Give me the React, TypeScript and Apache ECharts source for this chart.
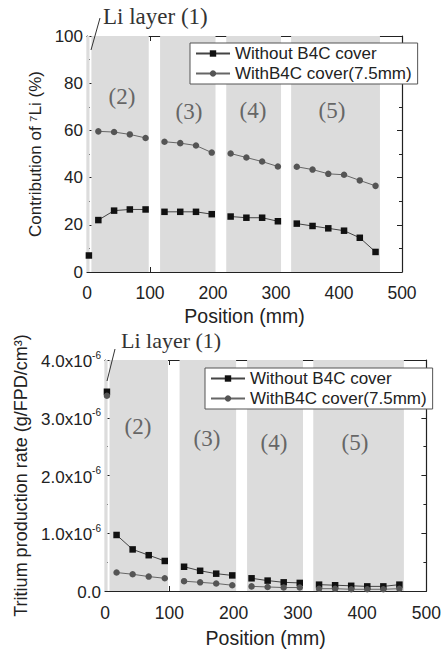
import React, { useEffect, useRef } from "react";
import * as echarts from "echarts";

// Positions (mm) of the calculation points; first one is the Li layer (1)
const positions = [3, 18, 43, 68, 93, 123, 148, 173, 198, 228, 253, 278, 303, 333, 358, 383, 408, 433, 458];
// index ranges of each region: (1), (2), (3), (4), (5)
const segments: [number, number][] = [[0, 1], [1, 5], [5, 9], [9, 13], [13, 19]];
// grey region spans (mm)
const regionSpans: [number, number][] = [[0, 4], [7, 98], [116, 204], [221, 308], [324, 465]];
const regionNames = ["(2)", "(3)", "(4)", "(5)"];

const seriesNames = ["Without B4C cover", "WithB4C cover(7.5mm)"];

// Contribution of 7Li (%)
const contribWithout = [7, 22, 26, 26.5, 26.5, 25.5, 25.5, 25.5, 24.5, 23.5, 23, 23, 21.5, 20.5, 19.5, 18.5, 17.5, 14.5, 8.5];
const contribWith = [null, 59.6, 59.3, 58.3, 56.8, 55.2, 54.6, 53.6, 50.6, 50.2, 48.5, 46.8, 44.7, 44.6, 43.4, 41.6, 41.2, 38.8, 36.5];

// Tritium production rate (x10^-6 g/FPD/cm3)
const tritiumWithout = [3.45, 0.97, 0.72, 0.62, 0.52, 0.42, 0.35, 0.3, 0.27, 0.22, 0.18, 0.15, 0.14, 0.11, 0.1, 0.09, 0.08, 0.08, 0.11];
const tritiumWith = [3.38, 0.32, 0.29, 0.25, 0.22, 0.17, 0.15, 0.13, 0.1, 0.08, 0.07, 0.06, 0.06, 0.04, 0.04, 0.03, 0.03, 0.03, 0.04];

const xTicks = [0, 100, 200, 300, 400, 500];
const contribTicks = [0, 20, 40, 60, 80, 100];
const tritiumTicks = [0, 1, 2, 3, 4];

const SANS = "Liberation Sans";
const SERIF = "Liberation Serif";

function buildSeries(
  name: string,
  values: (number | null)[],
  axisIndex: number,
  symbol: string,
  markerColor: string,
  lineColor: string
) {
  return segments.map(([a, b]) => ({
    name,
    type: "line",
    xAxisIndex: axisIndex * 2,
    yAxisIndex: axisIndex * 2,
    symbol,
    symbolSize: 6.5,
    showSymbol: true,
    z: 5,
    itemStyle: { color: markerColor, borderWidth: 0 },
    lineStyle: { color: lineColor, width: 1 },
    data: positions
      .slice(a, b)
      .map((x, i) => [x, values[a + i]])
      .filter((p) => p[1] !== null),
  }));
}

function regionSeries(axisIndex: number) {
  return {
    name: "regions",
    type: "line",
    xAxisIndex: axisIndex * 2,
    yAxisIndex: axisIndex * 2,
    data: [],
    z: 1,
    markArea: {
      silent: true,
      itemStyle: { color: "#dcdcdc" },
      data: regionSpans.map(([a, b]) => [{ xAxis: a }, { xAxis: b }]),
    },
  };
}

const axisColor = "#222";
const textColor = "#222";

function xAxes(gridIndex: number, margin: number, nameGap: number) {
  const base = {
    gridIndex,
    type: "value",
    min: xTicks[0],
    max: xTicks[xTicks.length - 1],
    interval: 100,
    splitLine: { show: false },
    axisLine: { onZero: false, lineStyle: { color: axisColor, width: 1.2 } },
    axisTick: { inside: true, length: 5, lineStyle: { color: axisColor } },
    minorTick: { show: true, splitNumber: 2, length: 3, lineStyle: { color: axisColor } },
  };
  return [
    {
      ...base,
      position: "bottom",
      axisLabel: { fontFamily: SANS, fontSize: 17.5, color: textColor, margin },
      name: "Position (mm)",
      nameLocation: "middle",
      nameGap,
      nameTextStyle: { fontFamily: SANS, fontSize: 19.5, color: textColor },
    },
    { ...base, position: "top", axisLabel: { show: false } },
  ];
}

function rightAxis(gridIndex: number, max: number, interval: number) {
  return {
    gridIndex,
    type: "value",
    min: 0,
    max,
    interval,
    position: "right",
    splitLine: { show: false },
    axisLine: { onZero: false, lineStyle: { color: axisColor, width: 1.2 } },
    axisTick: { inside: true, length: 5, lineStyle: { color: axisColor } },
    minorTick: { show: true, splitNumber: 2, length: 3, lineStyle: { color: axisColor } },
    axisLabel: { show: false },
  };
}

function legendFor(left: number, top: number) {
  return {
    data: seriesNames,
    orient: "vertical",
    left,
    top,
    backgroundColor: "#fff",
    borderColor: "#555",
    borderWidth: 1,
    borderRadius: 0,
    padding: [2, 6, 2, 5],
    itemGap: 3,
    itemWidth: 34,
    itemHeight: 8,
    textStyle: { fontFamily: SANS, fontSize: 17, color: textColor },
    selectedMode: false,
    z: 10,
  };
}

const option: any = {
  animation: false,
  backgroundColor: "#fff",
  grid: [
    { left: 87, top: 36, width: 315, height: 236 },
    { left: 105, top: 360, width: 322, height: 240 },
  ],
  xAxis: [...xAxes(0, 12, 34), ...xAxes(1, 13, 37)],
  yAxis: [
    {
      gridIndex: 0,
      type: "value",
      min: contribTicks[0],
      max: contribTicks[contribTicks.length - 1],
      interval: 20,
      position: "left",
      splitLine: { show: false },
      axisLine: { onZero: false, lineStyle: { color: axisColor, width: 1.2 } },
      axisTick: { inside: true, length: 5, lineStyle: { color: axisColor } },
      minorTick: { show: true, splitNumber: 2, length: 3, lineStyle: { color: axisColor } },
      axisLabel: { fontFamily: SANS, fontSize: 17, color: textColor, margin: 4 },
      name: "Contribution of \u2077Li (%)",
      nameLocation: "middle",
      nameGap: 35,
      nameTextStyle: { fontFamily: SANS, fontSize: 17, color: textColor },
    },
    rightAxis(0, 100, 20),
    {
      gridIndex: 1,
      type: "value",
      min: tritiumTicks[0],
      max: tritiumTicks[tritiumTicks.length - 1],
      interval: 1,
      position: "left",
      splitLine: { show: false },
      axisLine: { onZero: false, lineStyle: { color: axisColor, width: 1.2 } },
      axisTick: { inside: true, length: 5, lineStyle: { color: axisColor } },
      minorTick: { show: true, splitNumber: 2, length: 3, lineStyle: { color: axisColor } },
      axisLabel: {
        margin: 4,
        formatter: (v: number) => (v === 0 ? "{a|0.0}" : `{a|${v.toFixed(1)}x10}{b|-6}`),
        rich: {
          a: { fontFamily: SANS, fontSize: 17, color: textColor, lineHeight: 20, verticalAlign: "bottom" },
          b: { fontFamily: SANS, fontSize: 10, color: textColor, verticalAlign: "top", lineHeight: 20 },
        },
      },
      name: "Tritium production rate (g/FPD/cm\u00b3)",
      nameLocation: "middle",
      nameGap: 68,
      nameTextStyle: { fontFamily: SANS, fontSize: 18, color: textColor },
    },
    rightAxis(1, 4, 1),
  ],
  legend: [legendFor(190, 43), legendFor(205, 368)],
  series: [
    regionSeries(0),
    regionSeries(1),
    ...buildSeries(seriesNames[0], contribWithout, 0, "rect", "#111", "#444"),
    ...buildSeries(seriesNames[1], contribWith, 0, "circle", "#555", "#666"),
    ...buildSeries(seriesNames[0], tritiumWithout, 1, "rect", "#111", "#444"),
    ...buildSeries(seriesNames[1], tritiumWith, 1, "circle", "#555", "#666"),
  ],
  graphic: [
    { type: "text", left: 103, top: 5, z: 20, style: { text: "Li layer (1)", fontFamily: SERIF, fontSize: 23, fill: "#333" } },
    { type: "line", z: 20, shape: { x1: 91, y1: 50, x2: 100, y2: 18 }, style: { stroke: "#333", lineWidth: 1 } },
    { type: "text", left: 121, top: 329, z: 20, style: { text: "Li layer (1)", fontFamily: SERIF, fontSize: 22, fill: "#333" } },
    { type: "line", z: 20, shape: { x1: 107, y1: 381, x2: 115, y2: 349 }, style: { stroke: "#333", lineWidth: 1 } },
    // region labels, top chart
    ...[[122, 96], [189, 111], [253, 110], [332, 110]].map(([x, y], i) => ({
      type: "text",
      x,
      y,
      z: 20,
      style: { text: regionNames[i], fontFamily: SERIF, fontSize: 23, fill: "#666", align: "center", verticalAlign: "middle" },
    })),
    // region labels, bottom chart
    ...[[138, 426], [207, 438], [274, 442], [355, 442]].map(([x, y], i) => ({
      type: "text",
      x,
      y,
      z: 20,
      style: { text: regionNames[i], fontFamily: SERIF, fontSize: 23, fill: "#666", align: "center", verticalAlign: "middle" },
    })),
  ],
};

export default function App() {
  const ref = useRef<HTMLDivElement>(null);
  useEffect(() => {
    if (!ref.current) return;
    const chart = echarts.init(ref.current, null, { renderer: "svg" });
    chart.setOption(option);
    return () => chart.dispose();
  }, []);
  return <div ref={ref} style={{ position: "absolute", left: 0, top: 0, width: 444, height: 649 }} />;
}
